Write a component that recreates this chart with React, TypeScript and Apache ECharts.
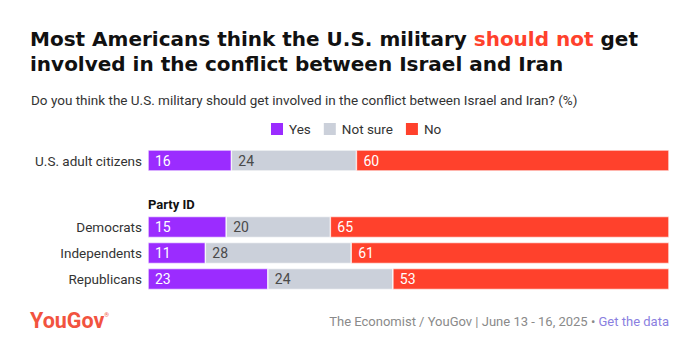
import React, { useEffect, useRef } from "react";
import * as echarts from "echarts";

const seriesNames = ["Yes", "Not sure", "No"];
const topCategories = ["U.S. adult citizens"];
const partyCategories = ["Democrats", "Independents", "Republicans"];
const yesTop = [16];
const notSureTop = [24];
const noTop = [60];
const yesParty = [15, 11, 23];
const notSureParty = [20, 28, 24];
const noParty = [65, 61, 53];

const colors = ["#9b2cff", "#cbd0da", "#ff412c"];
const labelColors = ["#ffffff", "#4a4a4a", "#ffffff"];
const FONT = "Roboto, 'Noto Sans', sans-serif";
const TFONT = "'DejaVu Sans', sans-serif";

export default function App() {
  const ref = useRef<HTMLDivElement>(null);
  useEffect(() => {
    document.body.style.margin = "0";
    const chart = echarts.init(ref.current!, null, { renderer: "svg" });
    const topData = [yesTop, notSureTop, noTop];
    const partyData = [yesParty, notSureParty, noParty];
    const mk = (i: number, data: number[], axisIdx: number, stack: string) => ({
      name: seriesNames[i],
      type: "bar",
      stack,
      xAxisIndex: axisIdx,
      yAxisIndex: axisIdx,
      data,
      barWidth: 21,
      itemStyle: { color: colors[i], borderColor: "#ffffff", borderWidth: 0.6 },
      label: {
        show: true,
        position: "insideLeft",
        distance: 7,
        color: labelColors[i],
        fontSize: 14,
        fontFamily: FONT,
      },
      emphasis: { disabled: true },
    });
    const series: any[] = [];
    for (let i = 0; i < 3; i++) series.push(mk(i, topData[i], 0, "top"));
    for (let i = 0; i < 3; i++) series.push(mk(i, partyData[i], 1, "party"));

    chart.setOption({
      animation: false,
      textStyle: { fontFamily: FONT },
      legend: {
        data: seriesNames,
        left: 269,
        top: 121,
        padding: 0,
        icon: "rect",
        itemWidth: 14,
        itemHeight: 14,
        itemGap: 11,
        textStyle: { fontSize: 13.5, color: "#333333", fontFamily: FONT, padding: [0, 0, 0, 0] },
      },
      graphic: [
        {
          type: "text",
          left: 30,
          top: 29,
          style: {
            text: "Most Americans think the U.S. military {r|should not} get",
            fontSize: 20,
            fontWeight: "bold",
            fill: "#111111",
            fontFamily: TFONT,
            rich: {
              r: { fontSize: 20, fontWeight: "bold", fill: "#ff412c", fontFamily: TFONT },
            },
          },
        },
        {
          type: "text",
          left: 30,
          top: 54,
          style: {
            text: "involved in the conflict between Israel and Iran",
            fontSize: 20,
            fontWeight: "bold",
            fill: "#111111",
            fontFamily: TFONT,
          },
        },
        {
          type: "text",
          left: 31,
          top: 93,
          style: {
            text: "Do you think the U.S. military should get involved in the conflict between Israel and Iran? (%)",
            fontSize: 13.5,
            fill: "#333333",
            fontFamily: FONT,
          },
        },
        {
          type: "text",
          left: 148,
          top: 198,
          style: { text: "Party ID", fontSize: 13, fontWeight: "bold", fill: "#111111", fontFamily: FONT },
        },
        {
          type: "text",
          left: 30,
          top: 309,
          style: {
            text: "{l|YouGov}{s|®}",
            fontFamily: FONT,
            rich: {
              l: { fontSize: 21.5, fontWeight: "bold", fill: "#f2533f", fontFamily: FONT },
              s: { fontSize: 6, fill: "#f2533f", fontFamily: FONT, verticalAlign: "top", padding: [2, 0, 0, 0] },
            },
          },
        },
        {
          type: "text",
          right: 31,
          top: 315,
          style: {
            text: "{g|The Economist / YouGov | June 13 - 16, 2025 • }{p|Get the data}",
            fontFamily: FONT,
            rich: {
              g: { fontSize: 13, fill: "#8a8a8a", fontFamily: FONT },
              p: { fontSize: 13, fill: "#8a7fe0", fontFamily: FONT },
            },
          },
        },
      ],
      grid: [
        { left: 148, right: 31, top: 150, height: 21 },
        { left: 148, right: 31, top: 214, height: 78 },
      ],
      xAxis: [
        { type: "value", gridIndex: 0, min: 0, max: 100, show: false },
        { type: "value", gridIndex: 1, min: 0, max: 100, show: false },
      ],
      yAxis: [
        {
          type: "category",
          gridIndex: 0,
          data: topCategories,
          inverse: true,
          axisLine: { show: false },
          axisTick: { show: false },
          axisLabel: { fontSize: 13.5, color: "#333333", margin: 6, fontFamily: FONT },
        },
        {
          type: "category",
          gridIndex: 1,
          data: partyCategories,
          inverse: true,
          axisLine: { show: false },
          axisTick: { show: false },
          axisLabel: { fontSize: 13.5, color: "#333333", margin: 6, fontFamily: FONT },
        },
      ],
      series,
    });
    return () => chart.dispose();
  }, []);
  return <div ref={ref} style={{ width: 700, height: 354 }} />;
}
